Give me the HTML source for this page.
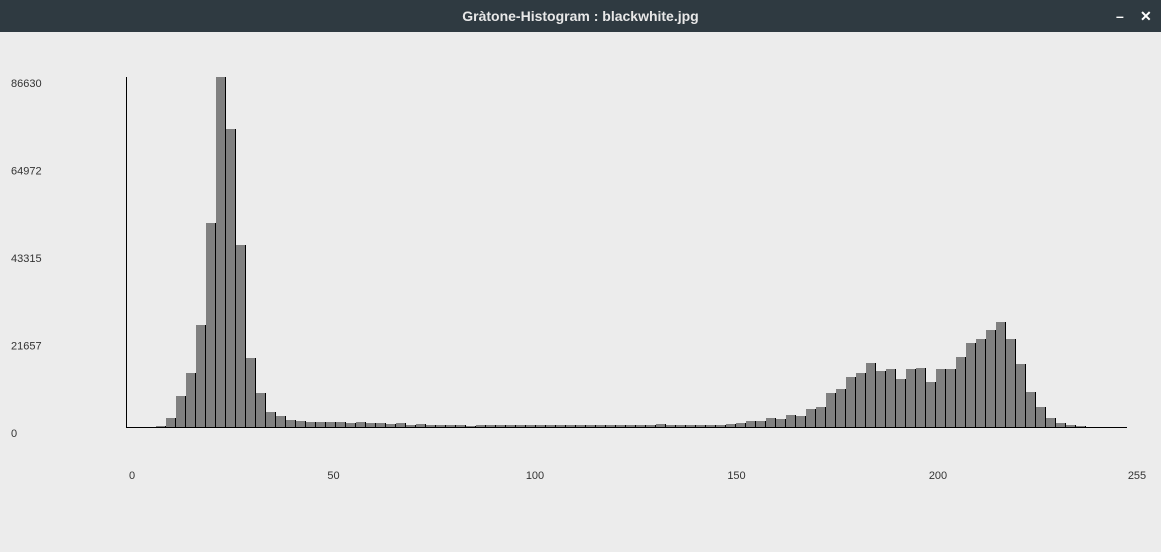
<!DOCTYPE html>
<html><head><meta charset="utf-8"><style>
body{margin:0;width:1161px;height:552px;background:#ececec;overflow:hidden;font-family:"Liberation Sans",sans-serif}
#tb{position:absolute;left:0;top:0;width:1161px;height:32px;background:#2f3a41;color:#e8e8e8;font-weight:bold;font-size:14px;text-align:center;line-height:32px}
.wb{position:absolute;top:0;color:#fff;font-size:14px;line-height:32px;font-weight:bold}
svg{position:absolute;left:0;top:0}
</style></head><body>
<div id="tb">Gràtone-Histogram : blackwhite.jpg</div>
<div class="wb" style="left:1116px">–</div>
<div class="wb" style="left:1140px">✕</div>
<svg id="c" width="1161" height="552"></svg>
<script>
const heights=[0,0,0,1,9,31,54,102,204,350,298,182,69,34,15,11,7,6,5,5,5,5,4,5,4,4,3,4,2,3,2,2,2,2,1,2,2,2,2,2,2,2,2,2,2,2,2,2,2,2,2,2,2,3,2,2,2,2,2,2,3,4,6,6,9,8,12,11,18,20,34,38,50,54,64,56,58,48,58,59,45,58,58,70,84,88,97,105,88,63,35,20,9,4,2,1,0,0,0,0];
const counts=heights.map(h=>Math.round(h*86630/350));
const yTicks=[0,21657,43315,64972,86630];
const xTicks=[0,50,100,150,200,255];
const yMax=86630, x0=126, y0=427, plotH=350, binW=10;
const svg=document.getElementById('c'), NS='http://www.w3.org/2000/svg';
function el(t,a){const e=document.createElementNS(NS,t);for(const k in a)e.setAttribute(k,a[k]);svg.appendChild(e);return e;}
const yS=v=>y0-v/yMax*plotH;
const xS=v=>v>=255?1137:132+v*4.03;
counts.forEach((v,i)=>{
  const h=y0-yS(v); if(h<=0)return;
  const r=el('rect',{x:x0+i*binW,y:y0-h,width:binW,height:h,fill:'#808080'});
  
  
  const l=el('line',{x1:x0+i*binW+binW-0.5,x2:x0+i*binW+binW-0.5,y1:y0-h,y2:y0,stroke:'#000','stroke-width':1});
  
  
});
const ya=el('line',{x1:126.5,x2:126.5,y1:77,y2:427,stroke:'#000','stroke-width':1});


const xa=el('line',{x1:126,x2:1127,y1:427.5,y2:427.5,stroke:'#000','stroke-width':1});


yTicks.forEach(v=>{
  const t=el('text',{x:11,y:yS(v)+10,'font-size':11,fill:'#333'});t.textContent=v;
  
  
});
xTicks.forEach(v=>{
  const t=el('text',{x:xS(v),y:479,'font-size':11,fill:'#333','text-anchor':'middle'});t.textContent=v;
  
  
});
</script>
</body></html>
